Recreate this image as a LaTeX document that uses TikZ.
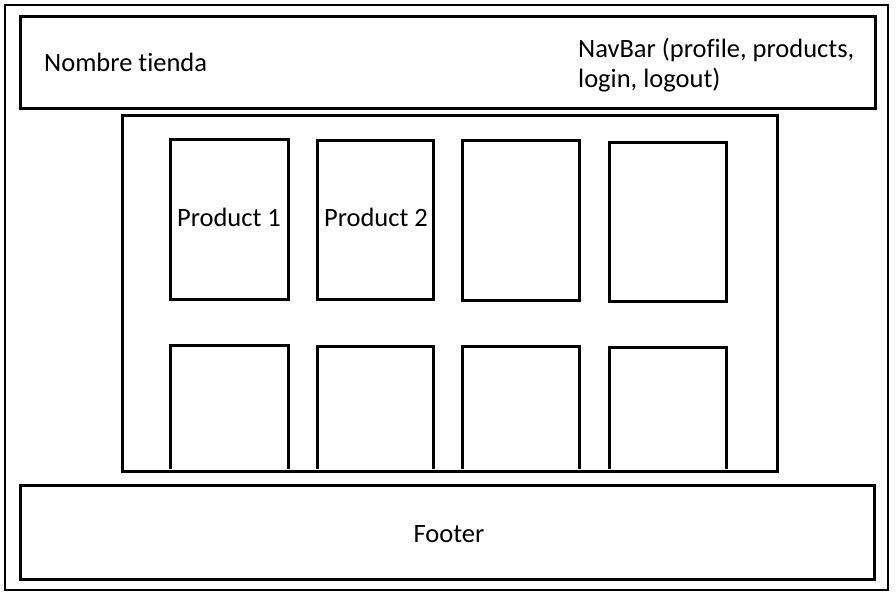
\documentclass[tikz,border=0pt]{standalone}
\usepackage{fontspec}
\setmainfont{Carlito}[Ligatures=NoCommon]
\begin{document}
\begin{tikzpicture}[x=1pt,y=-1pt,
  thick box/.style={draw=black,line width=3pt},
  thin box/.style={draw=black,line width=1.2pt},
  label text/.style={inner sep=0pt,font=\fontsize{26.5}{30}\selectfont}]
\useasboundingbox (0,0) rectangle (896,598);
% outer frame
\draw[thin box] (5,5) rectangle (888,590);
% header
\draw[thick box] (20,16) rectangle (875,108);
\node[label text,anchor=base west] (shop) at (44,71) {Nombre tienda};
\node[label text,anchor=base west,align=left] (nav) at (578,87) {NavBar (profile, products,\\login, logout)};
% main container
\draw[thick box] (122,115) rectangle (777,471);
% product row 1
\draw[thick box] (170,139) rectangle (288,299);
\draw[thick box] (317,140) rectangle (433,299);
\draw[thick box] (462,140) rectangle (579,300);
\draw[thick box] (609,142) rectangle (726,301);
\node[label text,anchor=base] (p1) at (229,226) {Product 1};
\node[label text,anchor=base] (p2) at (376,226) {Product 2};
% product row 2 (open at bottom)
\draw[thick box] (170,469) |- (288,345) -- (288,469);
\draw[thick box] (317,469) |- (433,346) -- (433,469);
\draw[thick box] (462,469) |- (579,346) -- (579,469);
\draw[thick box] (609,469) |- (726,347) -- (726,469);
% footer
\draw[thick box] (20,485) rectangle (874,579);
\node[label text,anchor=base] (footer) at (449,542) {Footer};
\end{tikzpicture}
\end{document}
